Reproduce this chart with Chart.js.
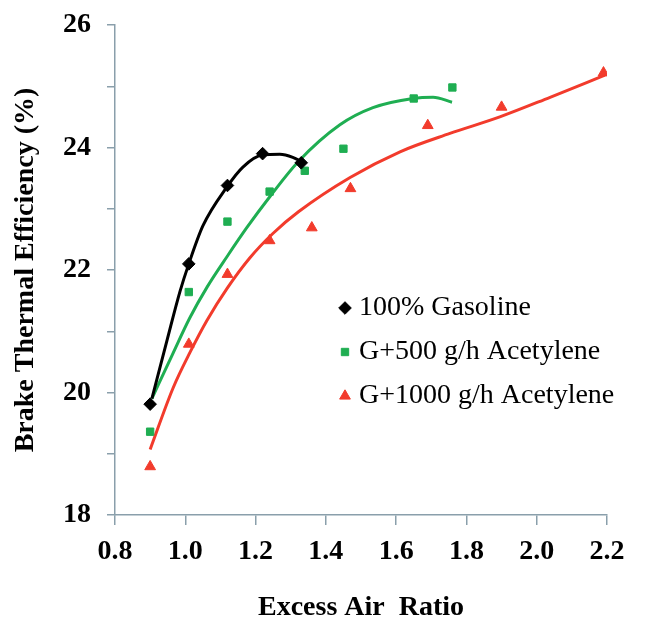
<!DOCTYPE html>
<html>
<head>
<meta charset="utf-8">
<title>Brake Thermal Efficiency</title>
<script src="https://cdn.jsdelivr.net/npm/chart.js@4.4.0/dist/chart.umd.min.js"></script>
<style>
    html, body { margin: 0; padding: 0; background: #ffffff; }
    #wrap { width: 652px; height: 622px; }
</style>
</head>
<body>
<div id="wrap"><canvas id="bteChart" width="652" height="622"></canvas></div>
<script>
// measured points (excess air ratio, BTE %)
const gasolineX = [0.9, 1.01, 1.12, 1.22, 1.33];
const gasolineY = [19.81, 22.1, 23.38, 23.9, 23.75];

const g500X = [0.9, 1.01, 1.12, 1.24, 1.34, 1.45, 1.65, 1.76];
const g500Y = [19.36, 21.64, 22.79, 23.28, 23.62, 23.98, 24.8, 24.98];

const g1000X = [0.9, 1.01, 1.12, 1.24, 1.36, 1.47, 1.69, 1.9, 2.19];
const g1000Y = [18.79, 20.79, 21.93, 22.48, 22.69, 23.33, 24.36, 24.66, 25.22];

// trend curves
const gasolineFitX = [0.905, 0.948, 0.985, 1.01, 1.05, 1.119, 1.164, 1.221, 1.269, 1.306, 1.34];
const gasolineFitY = [19.9, 20.85, 21.65, 22.1, 22.72, 23.36, 23.68, 23.88, 23.89, 23.84, 23.74];

const g500FitX = [0.905, 0.965, 1.013, 1.062, 1.119, 1.175, 1.241, 1.32, 1.44, 1.534, 1.648, 1.705, 1.759];
const g500FitY = [19.9, 20.64, 21.22, 21.72, 22.22, 22.69, 23.2, 23.76, 24.37, 24.65, 24.8, 24.82, 24.74];

const g1000FitX = [0.9, 0.965, 1.013, 1.062, 1.119, 1.184, 1.25, 1.322, 1.469, 1.611, 1.753, 1.895, 2.038, 2.194];
const g1000FitY = [19.07, 20.07, 20.65, 21.18, 21.7, 22.2, 22.6, 22.95, 23.51, 23.93, 24.23, 24.5, 24.82, 25.18];

const seriesNames = ['100% Gasoline', 'G+500 g/h Acetylene', 'G+1000 g/h Acetylene'];
const seriesColors = ['#000000', '#1fae52', '#f23b2c'];

const yTicksLabelled = [18, 20, 22, 24, 26];

const serif = '"Liberation Serif", "Times New Roman", serif';
const axisColor = '#8a9fab';

function toPoints(xs, ys) {
    return xs.map(function(x, i) { return { x: x, y: ys[i] }; });
}

// legend drawn inside the plot area
const insideLegend = {
    id: 'insideLegend',
    afterDatasetsDraw(chart) {
        const ctx = chart.ctx;
        const area = chart.chartArea;
        ctx.save();
        ctx.font = '28px ' + serif;
        ctx.textBaseline = 'middle';
        ctx.textAlign = 'left';
        seriesNames.forEach(function(name, i) {
            const ds = chart.data.datasets[i];
            const x = area.left + 230;
            const y = area.top + 283 + i * 44;
            ctx.fillStyle = ds.backgroundColor;
            ctx.strokeStyle = ds.borderColor;
            Chart.helpers.drawPoint(ctx, {
                pointStyle: ds.pointStyle,
                radius: ds.pointRadius,
                borderWidth: 1,
                rotation: 0
            }, x, y);
            ctx.fillStyle = '#000000';
            ctx.fillText(name, x + 14, y);
        });
        ctx.restore();
    }
};

const markerStyles = ['rectRot', 'rect', 'triangle'];
const markerSizes = [6.3, 5.2, 6.2];

const pointSets = [
    toPoints(gasolineX, gasolineY),
    toPoints(g500X, g500Y),
    toPoints(g1000X, g1000Y)
];
const fitSets = [
    toPoints(gasolineFitX, gasolineFitY),
    toPoints(g500FitX, g500FitY),
    toPoints(g1000FitX, g1000FitY)
];

const datasets = [];
pointSets.forEach(function(pts, i) {
    datasets.push({
        label: seriesNames[i],
        data: pts,
        showLine: false,
        pointStyle: markerStyles[i],
        pointRadius: markerSizes[i],
        pointHoverRadius: markerSizes[i],
        backgroundColor: seriesColors[i],
        borderColor: seriesColors[i],
        borderWidth: 1
    });
});
fitSets.forEach(function(pts, i) {
    datasets.push({
        label: seriesNames[i] + ' trend',
        data: pts,
        showLine: true,
        pointRadius: 0,
        borderColor: seriesColors[i],
        backgroundColor: seriesColors[i],
        borderWidth: 3,
        cubicInterpolationMode: 'monotone',
        fill: false
    });
});

const ctx = document.getElementById('bteChart').getContext('2d');
new Chart(ctx, {
    type: 'scatter',
    data: { datasets: datasets },
    options: {
        responsive: false,
        animation: false,
        devicePixelRatio: 1,
        layout: { padding: { left: 0, top: 25, right: 45, bottom: 0 } },
        plugins: {
            legend: { display: false },
            tooltip: { enabled: false }
        },
        scales: {
            x: {
                type: 'linear',
                min: 0.8,
                max: 2.2,
                afterFit: function(scale) {
                    scale.height = 107;
                    scale.paddingLeft = 0;
                    scale.paddingRight = 0;
                },
                border: { display: true, color: axisColor, width: 1.5 },
                grid: {
                    drawOnChartArea: false,
                    drawTicks: true,
                    tickLength: 10,
                    color: axisColor,
                    lineWidth: 1.5
                },
                ticks: {
                    stepSize: 0.2,
                    padding: 10,
                    color: '#000000',
                    maxRotation: 0,
                    font: { family: serif, size: 28, weight: 'bold' },
                    callback: function(value) { return Number(value).toFixed(1); }
                },
                title: {
                    display: true,
                    text: 'Excess Air  Ratio',
                    color: '#000000',
                    padding: { top: 0, bottom: 0 },
                    font: { family: serif, size: 28, weight: 'bold', lineHeight: 1.0 }
                }
            },
            y: {
                type: 'linear',
                min: 18,
                max: 26,
                afterFit: function(scale) {
                    scale.width = 115;
                    scale.paddingTop = 0;
                    scale.paddingBottom = 0;
                },
                border: { display: true, color: axisColor, width: 1.5 },
                grid: {
                    drawOnChartArea: false,
                    drawTicks: true,
                    tickLength: 8,
                    color: axisColor,
                    lineWidth: 1.5
                },
                ticks: {
                    stepSize: 1,
                    padding: 16,
                    color: '#000000',
                    font: { family: serif, size: 28, weight: 'bold' },
                    callback: function(value) {
                        return yTicksLabelled.indexOf(value) >= 0 ? String(value) : '';
                    }
                },
                title: {
                    display: true,
                    text: 'Brake Thermal Efficiency (%)',
                    color: '#000000',
                    padding: { top: 9, bottom: 0 },
                    font: { family: serif, size: 28, weight: 'bold' }
                }
            }
        }
    },
    plugins: [insideLegend]
});
</script>
</body>
</html>
